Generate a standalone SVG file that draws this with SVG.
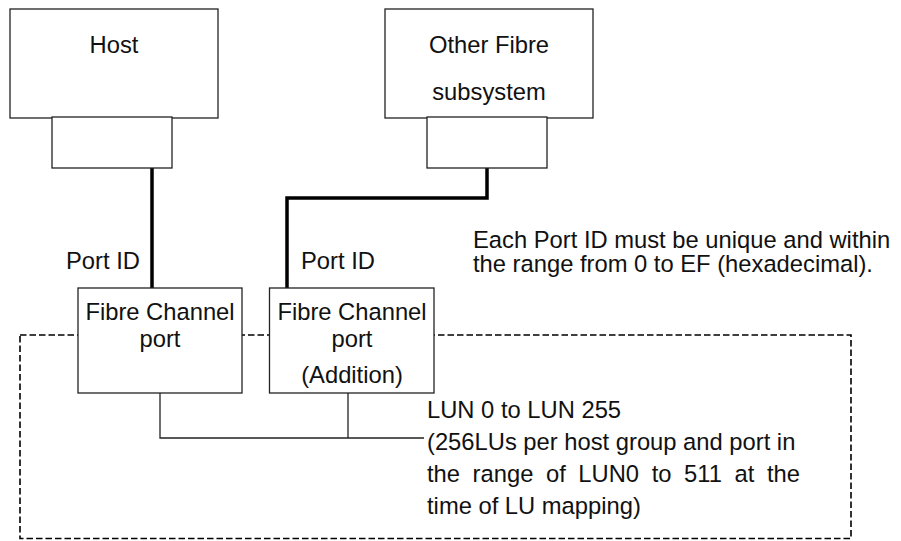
<svg xmlns="http://www.w3.org/2000/svg" width="901" height="541" viewBox="0 0 901 541">
<style>
.box{fill:#fff;stroke:#222;stroke-width:1.3}
.t{font-family:"Liberation Sans",Arial,sans-serif;font-size:23.75px;fill:#111}
.c{text-anchor:middle}
.thick{fill:none;stroke:#000;stroke-width:3.5}
.thin{fill:none;stroke:#222;stroke-width:1.3}
.dash{fill:none;stroke:#000;stroke-width:1.6;stroke-dasharray:6.5 3}
</style>
<rect class="dash" x="20" y="335" width="831" height="203.5"/>
<g id="connectors">
<path class="thick" d="M152,168 V288"/>
<path class="thick" d="M487,168 V198 H287 V288"/>
<path class="thin" d="M160,393 V438 H424 M348,393 V438"/>
</g>
<g id="host">
<rect class="box" x="10" y="9" width="208" height="109"/>
<text class="t c" x="114" y="53">Host</text>
</g>
<g id="host-port">
<rect class="box" x="52" y="117" width="120" height="51"/>
</g>
<g id="other">
<rect class="box" x="385" y="9" width="208" height="109"/>
<text class="t c" x="489" y="53">Other Fibre</text>
<text class="t c" x="489" y="100">subsystem</text>
</g>
<g id="other-port">
<rect class="box" x="427" y="117" width="120" height="51"/>
</g>
<g id="fc1">
<rect class="box" x="78" y="288" width="164" height="105"/>
<text class="t c" x="160" y="320">Fibre Channel</text>
<text class="t c" x="160" y="347">port</text>
</g>
<g id="fc2">
<rect class="box" x="269.5" y="288" width="164.5" height="105"/>
<text class="t c" x="352" y="320">Fibre Channel</text>
<text class="t c" x="352" y="347">port</text>
<text class="t c" x="352" y="383">(Addition)</text>
</g>
<g id="labels">
<text class="t" x="66" y="269">Port ID</text>
<text class="t" x="301" y="269">Port ID</text>
<text class="t" x="473" y="248">Each Port ID must be unique and within</text>
<text class="t" x="473" y="272">the range from 0 to EF (hexadecimal).</text>
<text class="t" x="427" y="418">LUN 0 to LUN 255</text>
<text class="t" x="427" y="450">(256LUs per host group and port in</text>
<text class="t" x="427" y="482" word-spacing="6">the range of LUN0 to 511 at the</text>
<text class="t" x="427" y="514">time of LU mapping)</text>
</g>
</svg>
